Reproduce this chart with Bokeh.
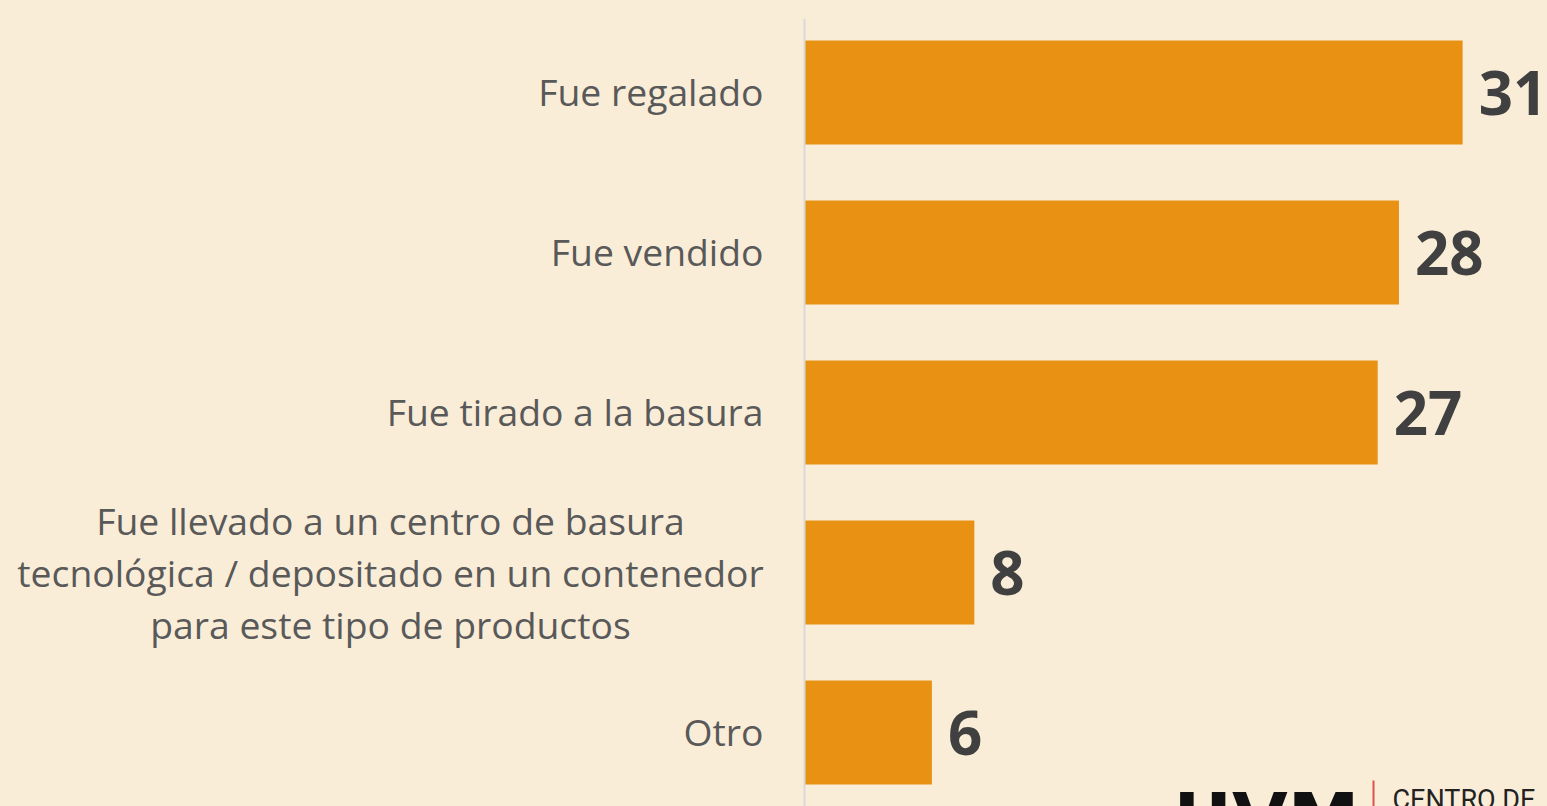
from bokeh.plotting import figure
from bokeh.models import FactorRange, Range1d, ColumnDataSource, Label, BoxAnnotation, Span
from bokeh.core.properties import value
from bokeh.embed import file_html
from bokeh.resources import INLINE

categories = [
    "Fue regalado",
    "Fue vendido",
    "Fue tirado a la basura",
    "Fue llevado a un centro de basura\ntecnológica / depositado en un contenedor\npara este tipo de productos",
    "Otro",
]
values = [31, 28, 27, 8, 6]
value_labels = [str(v) for v in values]

BG = "#FAEDD8"
BAR = "#E89112"
W, H = 1547, 806
ZERO_PX = 804          # where the value axis starts
PX_PER_UNIT = 21.23
LABEL_FONT = "Open Sans"
LABEL_SIZE = "37.3px"
LABEL_COLOR = "#595959"

p = figure(
    width=W, height=H,
    y_range=FactorRange(factors=categories[::-1], range_padding=-0.0375, range_padding_units="absolute"),
    x_range=Range1d(-ZERO_PX / PX_PER_UNIT, (W - ZERO_PX) / PX_PER_UNIT),
    output_backend="svg", toolbar_location=None, x_axis_location=None, y_axis_location=None,
    min_border_left=0, min_border_right=0, min_border_top=18, min_border_bottom=0,
)
p.background_fill_color = BG
p.border_fill_color = BG
p.outline_line_color = None
p.grid.visible = False

src = ColumnDataSource(dict(cat=categories, val=values, lab=value_labels))
p.hbar(y="cat", left=0, right="val", height=0.65, source=src, fill_color=BAR, line_color=None)

# value axis line
p.add_layout(Span(location=0, dimension="height", line_color="#D9D9D9", line_width=2))

# value labels
p.text(x="val", y="cat", text="lab", source=src, x_offset=16,
       text_align="left", text_baseline="middle",
       text_font=value("Open Sans"), text_font_style="bold",
       text_font_size="60px", text_color="#404040")

# category labels: single-line ones right-aligned next to the axis,
# the long three-line one centred in itself
single = [c for c in categories if "\n" not in c]
multi = [c for c in categories if "\n" in c]
single_src = ColumnDataSource(dict(cat=single, text=single))
p.text(x=0, y="cat", text="text", source=single_src, x_offset=-41, y_offset=-1,
       text_align="right", text_baseline="middle",
       text_font=value(LABEL_FONT), text_font_size=LABEL_SIZE, text_color=LABEL_COLOR)
multi_src = ColumnDataSource(dict(cat=multi, text=multi))
p.text(x=0, y="cat", text="text", source=multi_src, x_offset=-414,
       text_align="center", text_baseline="middle", text_line_height=1.01,
       text_font=value(LABEL_FONT), text_font_size=LABEL_SIZE, text_color=LABEL_COLOR)

# logo (partially cut off at the bottom edge, as in the reference)
p.add_layout(Label(x=1173, y=30, x_units="screen", y_units="screen", text="UVM",
                   text_font="DejaVu Sans", text_font_style="bold", text_font_size="72px",
                   text_color="#111111", text_baseline="top", text_align="left"))
p.add_layout(BoxAnnotation(left=1372, right=1374, bottom=0, top=26,
                           left_units="screen", right_units="screen", bottom_units="screen", top_units="screen",
                           fill_color="#E05050", fill_alpha=1, line_color=None))
p.add_layout(Label(x=1392, y=23, x_units="screen", y_units="screen", text="CENTRO DE",
                   text_font="Roboto", text_font_size="27px",
                   text_color="#222222", text_baseline="top", text_align="left"))

html = file_html(p, INLINE)
html = html.replace("</head>", "<style>html,body{margin:0;padding:0;background:%s;overflow:hidden;}</style></head>" % BG)
open("out.html", "w").write(html)
